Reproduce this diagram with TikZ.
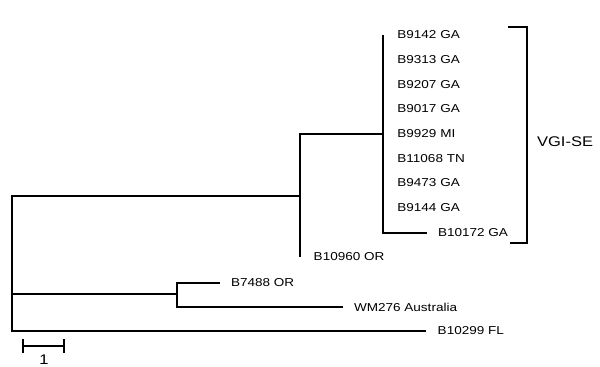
\documentclass[tikz,border=0pt]{standalone}
\usepackage{fontspec}
\setmainfont{Liberation Sans}[FakeStretch=1.18]
\begin{document}
\begin{tikzpicture}[x=0.75pt, y=-0.75pt, line width=1.6pt,
  leaf/.style={anchor=west, inner sep=0pt, font=\fontsize{8.6}{10}\selectfont},
  clade/.style={anchor=west, inner sep=0pt, font=\fontsize{10.5}{12}\selectfont}]
\useasboundingbox (0,0) rectangle (600,367);
% internal nodes
\coordinate (root) at (12,263);
\coordinate (nA) at (300,196);
\coordinate (nVGI) at (383,134);
\coordinate (nB) at (177,294);
% tips
\coordinate (t9142) at (383,35); \coordinate (t9313) at (383,60); \coordinate (t9207) at (383,85);
\coordinate (t9017) at (383,109); \coordinate (t9929) at (383,134); \coordinate (t11068) at (383,159);
\coordinate (t9473) at (383,183); \coordinate (t9144) at (383,208); \coordinate (t10172) at (427,233);
\coordinate (t10960) at (300,257);
\coordinate (t7488) at (220,283); \coordinate (tWM276) at (343,307); \coordinate (t10299) at (426,331);
% branches
\draw (root) |- (nA); \draw (root) |- (nB); \draw (root) |- (t10299);
\draw (nA) |- (nVGI); \draw (nA) |- (t10960);
\foreach \t in {t9142,t9313,t9207,t9017,t11068,t9473,t9144,t10172} \draw (nVGI) |- (\t);
\draw (nB) |- (t7488); \draw (nB) |- (tWM276);
% labels
\node[leaf] (l9142) at ([xshift=10pt]t9142) {B9142 GA};
\node[leaf] (l9313) at ([xshift=10pt]t9313) {B9313 GA};
\node[leaf] (l9207) at ([xshift=10pt]t9207) {B9207 GA};
\node[leaf] (l9017) at ([xshift=10pt]t9017) {B9017 GA};
\node[leaf] (l9929) at ([xshift=10pt]t9929) {B9929 MI};
\node[leaf] (l11068) at ([xshift=10pt]t11068) {B11068 TN};
\node[leaf] (l9473) at ([xshift=10pt]t9473) {B9473 GA};
\node[leaf] (l9144) at ([xshift=10pt]t9144) {B9144 GA};
\node[leaf] (l10172) at ([xshift=7.5pt]t10172) {B10172 GA};
\node[leaf] (l10960) at ([xshift=9.5pt]t10960) {B10960 OR};
\node[leaf] (l7488) at ([xshift=7.5pt]t7488) {B7488 OR};
\node[leaf] (lWM276) at ([xshift=7.5pt]tWM276) {WM276 Australia};
\node[leaf] (l10299) at ([xshift=8pt]t10299) {B10299 FL};
% clade bracket
\coordinate (brA) at (508,27); \coordinate (brB) at (527,243); \coordinate (brC) at (510,243);
\draw (brA) -| (brB) -- (brC);
\node[clade] (vgise) at (536,142) {VGI-SE};
% scale bar
\coordinate (sbL) at (23,346); \coordinate (sbR) at (64,346);
\draw (sbL) -- (sbR);
\draw (23,339) -- (23,353); \draw (64,339) -- (64,353);
\node[clade, anchor=center] (sbLab) at (44,360) {1};
\end{tikzpicture}
\end{document}
